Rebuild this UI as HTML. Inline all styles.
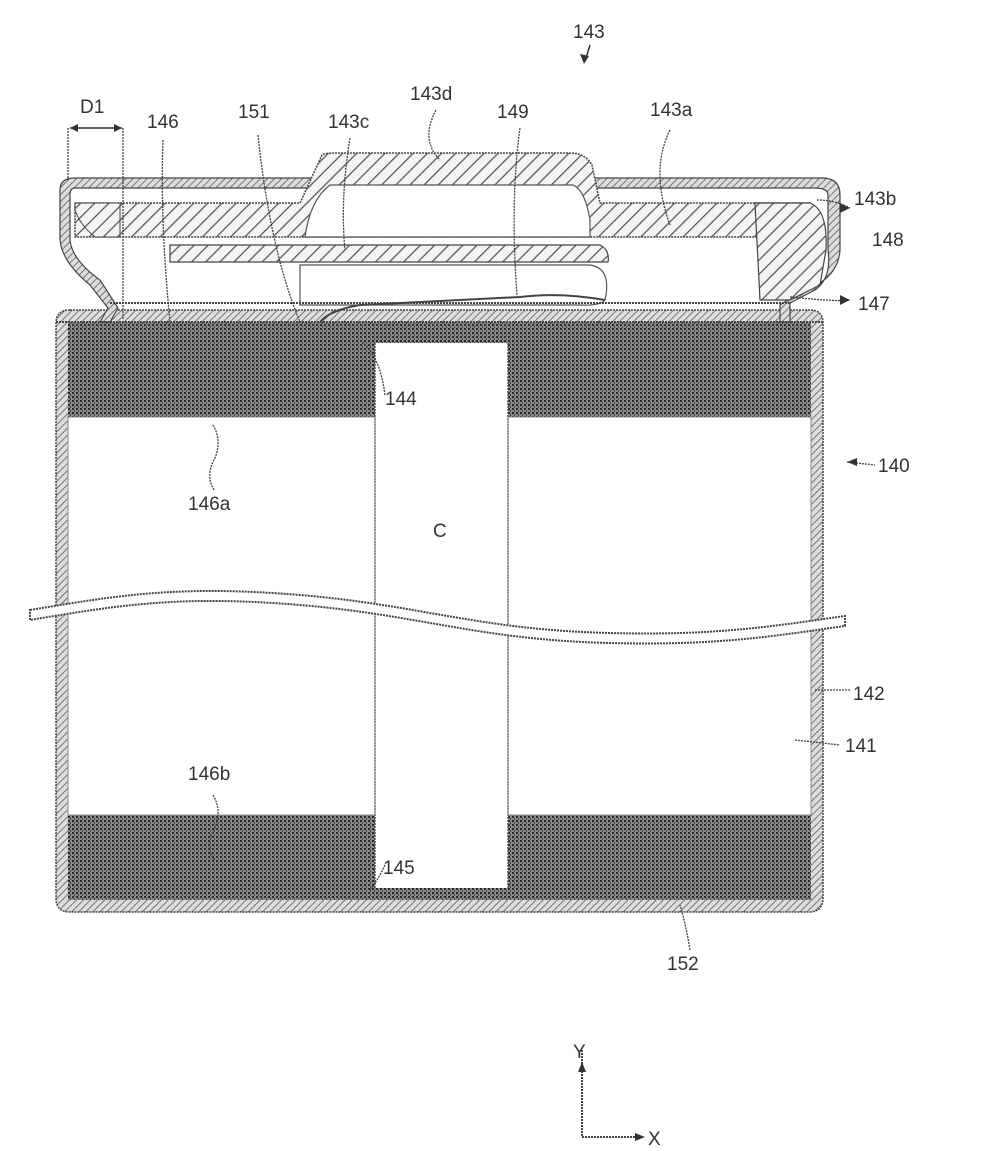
<!DOCTYPE html>
<html><head><meta charset="utf-8"><style>
html,body{margin:0;padding:0;background:#fff;}
svg{display:block}
text{font-family:"Liberation Sans",sans-serif;font-size:19px;fill:#333;}
</style></head><body>
<svg width="990" height="1151" viewBox="0 0 990 1151" xmlns="http://www.w3.org/2000/svg">
<defs>
<pattern id="dots" width="4" height="4" patternUnits="userSpaceOnUse">
<rect width="4" height="4" fill="#8a8a8a"/>
<rect x="0" y="0" width="2" height="2" fill="#2a2a2a"/>
<rect x="2" y="2" width="1" height="2" fill="#444"/>
</pattern>
<pattern id="hatch" width="10" height="10" patternUnits="userSpaceOnUse" patternTransform="rotate(45)">
<rect width="10" height="10" fill="#f4f4f4"/>
<line x1="0" y1="0" x2="0" y2="10" stroke="#555" stroke-width="2.5"/>
</pattern>
<pattern id="fine" width="5" height="5" patternUnits="userSpaceOnUse" patternTransform="rotate(45)">
<rect width="5" height="5" fill="#ddd"/>
<line x1="0" y1="0" x2="0" y2="5" stroke="#555" stroke-width="1.5"/>
</pattern>
</defs>

<path d="M70,310 L810,310 Q823,310 823,323 L823,898 Q823,912 809,912 L70,912 Q56,912 56,898 L56,323 Q56,310 70,310 Z" fill="url(#fine)" stroke="#444" stroke-width="1.5" stroke-dasharray="2 1"/>
<rect x="68" y="322" width="743" height="578" fill="#fff"/>
<rect x="68" y="322" width="743" height="95" fill="url(#dots)"/>
<rect x="375" y="343" width="133" height="74" fill="#fff"/>
<rect x="68" y="815" width="743" height="85" fill="url(#dots)"/>
<rect x="375" y="815" width="133" height="73" fill="#fff"/>
<line x1="375" y1="343" x2="375" y2="888" stroke="#555" stroke-width="1.5" stroke-dasharray="2 1"/>
<line x1="508" y1="343" x2="508" y2="888" stroke="#555" stroke-width="1.5" stroke-dasharray="2 1"/>
<rect x="68" y="417" width="307" height="398" fill="none" stroke="#888" stroke-width="1"/>
<rect x="508" y="417" width="303" height="398" fill="none" stroke="#888" stroke-width="1"/>

<path d="M30,610 C120,595 180,585 300,595 C420,605 480,630 610,633 C720,636 780,625 845,616 L845,626 C780,635 720,646 610,643 C480,640 420,615 300,605 C180,595 120,605 30,620 Z" fill="#fff" stroke="#444" stroke-width="2" stroke-dasharray="2 1"/>

<path d="M60,190 Q60,178 75,178 L822,178 Q840,178 840,195 L840,250 Q838,280 800,292 L780,305 L780,322 L790,322 L790,303 L815,290 Q832,278 828,250 L828,195 Q828,188 815,188 L75,188 Q70,188 70,195 L70,240 Q72,260 100,280 L118,308 L110,322 L100,322 L108,308 L90,285 Q62,262 60,240 Z" fill="url(#fine)" stroke="#444" stroke-width="1.2"/>
<path d="M75,203 L300,203 L322,155 Q325,153 335,153 L570,153 Q585,153 592,165 L600,203 L810,203 L810,237 L75,237 Z" fill="url(#hatch)" stroke="#444" stroke-width="1.5" stroke-dasharray="2 1"/>
<path d="M330,185 L573,185 Q585,190 590,220 L590,237 L305,237 Q310,200 330,185 Z" fill="#fff" stroke="#555" stroke-width="1.2"/>
<path d="M170,245 L600,245 Q610,250 608,262 L170,262 Z" fill="url(#hatch)" stroke="#444" stroke-width="1.2"/>
<path d="M300,265 L590,265 Q612,268 605,300 Q600,306 580,305 L300,305 Z" fill="#fff" stroke="#555" stroke-width="1.2"/>
<path d="M755,203 L810,203 Q828,210 826,250 L820,285 L790,300 L760,300 Z" fill="url(#hatch)" stroke="#444" stroke-width="1.2"/>
<path d="M75,203 L120,203 L120,237 L95,237 Q80,225 75,210 Z" fill="url(#hatch)" stroke="#444" stroke-width="1"/>
<line x1="110" y1="303" x2="790" y2="303" stroke="#444" stroke-width="2" stroke-dasharray="2 1"/>
<path d="M320,322 Q330,310 360,305 L520,297 Q560,292 605,300" fill="none" stroke="#444" stroke-width="2"/>
<line x1="56" y1="322" x2="823" y2="322" stroke="#444" stroke-width="2" stroke-dasharray="2 1"/>

<g fill="none" stroke="#444" stroke-width="1.3" stroke-dasharray="2 1">
<line x1="68" y1="128" x2="68" y2="180"/>
<line x1="123" y1="128" x2="123" y2="320"/>
<path d="M163,140 Q160,220 170,322"/>
<path d="M258,135 Q270,250 300,322"/>
<path d="M350,138 Q340,200 345,250"/>
<path d="M436,110 Q420,140 440,160"/>
<path d="M520,128 Q510,200 517,295"/>
<path d="M670,130 Q650,170 670,225"/>
<path d="M817,200 Q835,200 850,208"/>
<path d="M790,297 Q840,302 850,300"/>
<path d="M385,395 Q380,355 360,340"/>
<path d="M385,865 Q378,880 370,890"/>
<path d="M690,950 Q686,925 680,905"/>
<path d="M847,462 L875,465"/>
<path d="M815,690 L850,690"/>
<path d="M795,740 L840,745"/>
<path d="M214,490 Q205,475 215,458 Q222,440 213,425"/>
<path d="M214,860 Q205,845 215,828 Q222,810 213,795"/>
</g>
<line x1="70" y1="128" x2="122" y2="128" stroke="#333" stroke-width="1.5"/>
<path d="M70,128 l8,-4 v8 Z M122,128 l-8,-4 v8 Z" fill="#333"/>
<line x1="582" y1="1050" x2="582" y2="1137" stroke="#444" stroke-width="2" stroke-dasharray="2 1"/>
<line x1="582" y1="1137" x2="642" y2="1137" stroke="#444" stroke-width="2" stroke-dasharray="2 1"/>
<path d="M582,1062 l-4,10 h8 Z" fill="#333"/>
<path d="M645,1137 l-10,-4 v8 Z" fill="#333"/>

<g>
<text x="80" y="113">D1</text>
<text x="147" y="128">146</text>
<text x="238" y="118">151</text>
<text x="328" y="128">143c</text>
<text x="410" y="100">143d</text>
<text x="497" y="118">149</text>
<text x="573" y="38">143</text>
<text x="650" y="116">143a</text>
<text x="854" y="205">143b</text>
<text x="872" y="246">148</text>
<text x="858" y="310">147</text>
<text x="385" y="405">144</text>
<text x="878" y="472">140</text>
<text x="188" y="510">146a</text>
<text x="433" y="537">C</text>
<text x="853" y="700">142</text>
<text x="845" y="752">141</text>
<text x="188" y="780">146b</text>
<text x="383" y="874">145</text>
<text x="667" y="970">152</text>
<text x="573" y="1058">Y</text>
<text x="648" y="1145">X</text>
</g>
<path d="M590,45 L586,58" stroke="#333" stroke-width="1.5"/>
<path d="M584,64 l-4,-10 l9,2 Z" fill="#333"/>
<path d="M850,208 l-10,-5 v10 Z M850,300 l-10,-5 v10Z M847,462 l10,-4 v8 Z" fill="#333"/>
</svg>
</body></html>
